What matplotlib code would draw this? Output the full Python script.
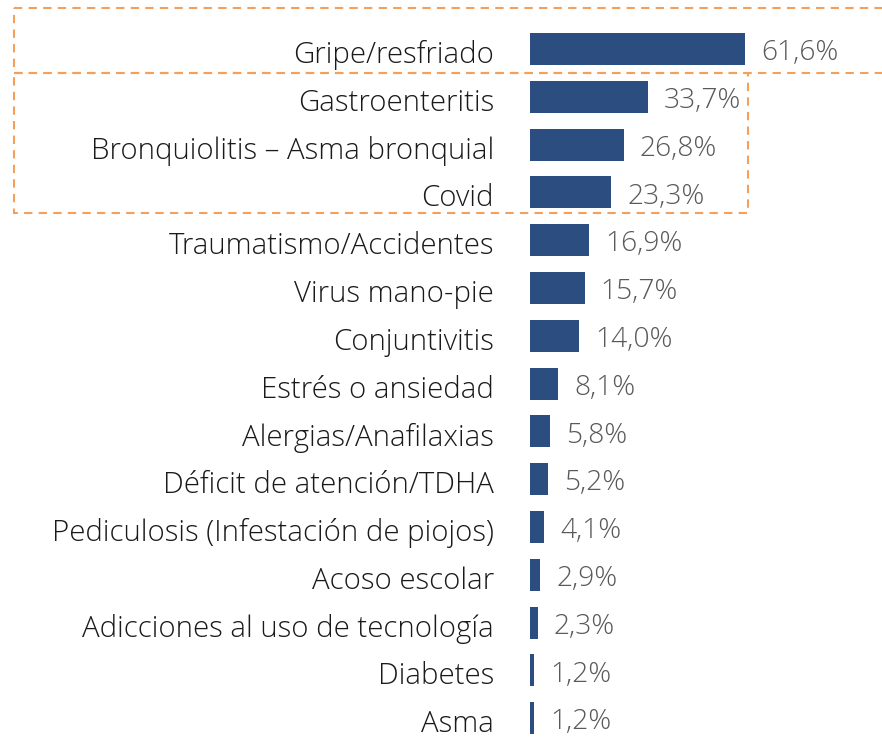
import matplotlib
matplotlib.use('Agg')
import matplotlib.pyplot as plt
import matplotlib.transforms as mtransforms
from matplotlib.patches import Rectangle

# data
diseases = ['Gripe/resfriado', 'Gastroenteritis', 'Bronquiolitis \u2013 Asma bronquial', 'Covid',
            'Traumatismo/Accidentes', 'Virus mano-pie', 'Conjuntivitis', 'Estrés o ansiedad',
            'Alergias/Anafilaxias', 'Déficit de atención/TDHA',
            'Pediculosis (Infestación de piojos)', 'Acoso escolar',
            'Adicciones al uso de tecnología', 'Diabetes', 'Asma']
percent = [61.6, 33.7, 26.8, 23.3, 16.9, 15.7, 14.0, 8.1, 5.8, 5.2, 4.1, 2.9, 2.3, 1.2, 1.2]

plt.rcParams['font.family'] = ['Open Sans', 'DejaVu Sans']
bar_color = '#2C4D7F'
orange = '#F5A05A'

fig = plt.figure(figsize=(8.82, 7.4), dpi=100)
ax = fig.add_axes([530 / 882, 0, 352 / 882, 1])

ypos = list(range(len(diseases)))
ax.barh(ypos, percent, height=0.67, color=bar_color)
ax.set_xlim(0, 352 / 3.49)
ax.set_ylim(-1.025 + 740 / 47.8, -1.025)

ax.set_yticks(ypos)
ax.set_yticklabels(diseases, fontsize=21.2, color='#1a1a1a', fontweight='light')
ax.tick_params(axis='y', length=0, pad=26)
# nudge labels down a little like the original
for lbl in ax.get_yticklabels():
    lbl.set_transform(lbl.get_transform() + mtransforms.ScaledTranslation(0, -2 / 72, fig.dpi_scale_trans))
ax.set_xticks([])
for s in ax.spines.values():
    s.set_visible(False)

for y, v in zip(ypos, percent):
    ax.annotate(f'{v:.1f}%'.replace('.', ','), (v, y), xytext=(11.5, -3),
                textcoords='offset points', va='center', ha='left',
                fontsize=20.3, color='#595959', fontweight='light')

# highlight boxes: x in figure fraction, y in data rows
trans = mtransforms.blended_transform_factory(fig.transFigure, ax.transData)
box1 = Rectangle((14 / 882, -0.86), 1.2, 1.36, transform=trans, fill=False,
                 edgecolor=orange, linestyle=(0, (4, 3)), linewidth=1.5, clip_on=False)
box2 = Rectangle((14 / 882, 0.5), (748 - 14) / 882, 2.93, transform=trans, fill=False,
                 edgecolor=orange, linestyle=(0, (4, 3)), linewidth=1.5, clip_on=False)
fig.add_artist(box1)
fig.add_artist(box2)

fig.savefig('out.png', dpi=100)
